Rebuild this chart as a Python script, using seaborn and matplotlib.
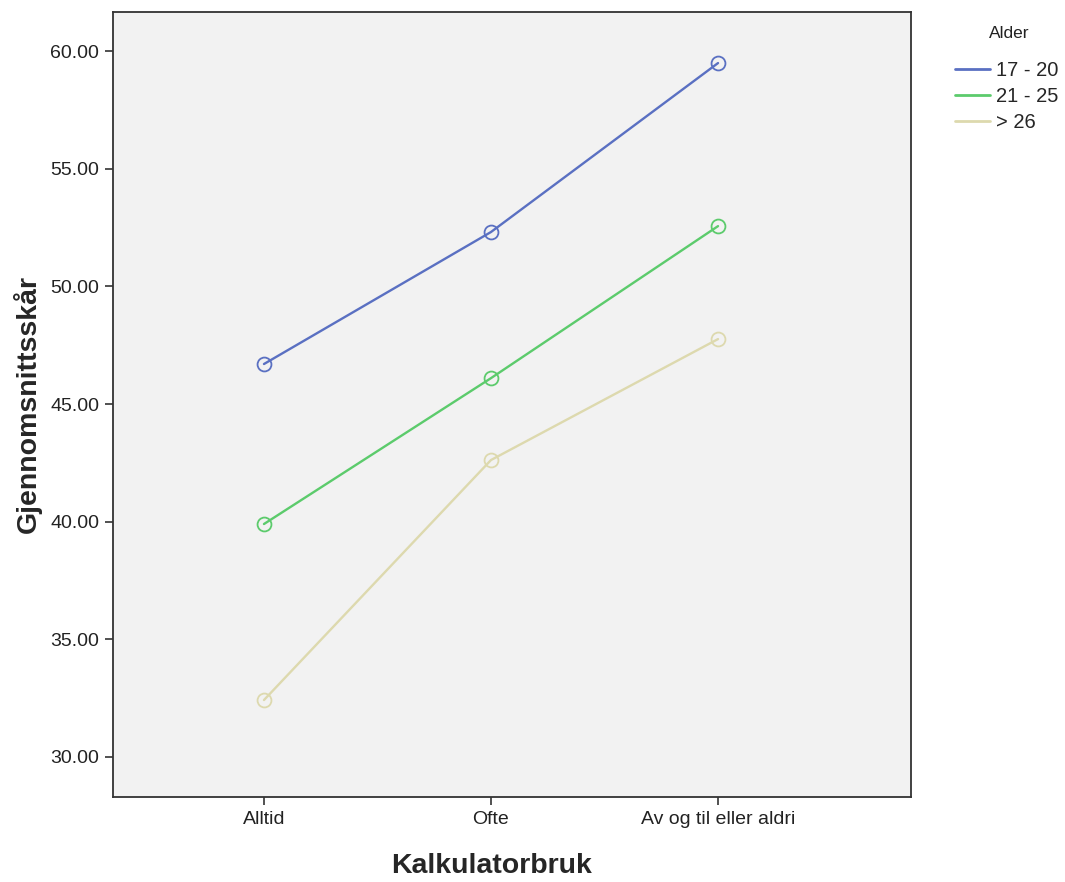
import seaborn as sns
import pandas as pd
import matplotlib.pyplot as plt
import matplotlib.ticker as ticker
from matplotlib.lines import Line2D

# values
kategorier = ['Alltid', 'Ofte', 'Av og til eller aldri']
grupper = ['17 - 20', '21 - 25', '> 26']
snitt_17_20 = [46.70, 52.31, 59.49]
snitt_21_25 = [39.90, 46.10, 52.56]
snitt_26 = [32.42, 42.62, 47.76]
farger = ['#5a70c2', '#5ccb6c', '#ddd9ae']

df = pd.DataFrame({
    'Kalkulatorbruk': kategorier * 3,
    'Gjennomsnittsskår': snitt_17_20 + snitt_21_25 + snitt_26,
    'Alder': [g for g in grupper for _ in kategorier],
})

sns.set_style('white')
plt.rcParams['font.family'] = ['Liberation Sans', 'DejaVu Sans']

fig = plt.figure(figsize=(10.65, 8.82), dpi=100)
ax = fig.add_axes([0.1061, 0.0964, 0.7493, 0.89])

sns.lineplot(data=df, x='Kalkulatorbruk', y='Gjennomsnittsskår', hue='Alder',
             hue_order=grupper, palette=farger, marker='o', markersize=10,
             linewidth=1.7, legend=False, ax=ax)
for line in ax.get_lines():
    line.set_markerfacecolor('none')
    line.set_markeredgecolor(line.get_color())
    line.set_markeredgewidth(1.3)

ax.set_facecolor('#f2f2f2')
ax.set_xlim(-0.665, 2.85)
ax.set_ylim(28.30, 61.66)
ax.set_yticks([30, 35, 40, 45, 50, 55, 60])
ax.yaxis.set_major_formatter(ticker.FormatStrFormatter('%.2f'))
ax.tick_params(axis='both', direction='out', length=6, width=1.2, color='#333333',
               labelsize=14, labelcolor='#222222', bottom=True, left=True, pad=4)
for s in ax.spines.values():
    s.set_color('#333333')
    s.set_linewidth(1.3)

ax.set_xlabel('Kalkulatorbruk', fontsize=20.5, fontweight='bold')
ax.xaxis.set_label_coords(0.474, -0.088)
ax.xaxis.label.set_va('center')
ax.set_ylabel('Gjennomsnittsskår', fontsize=20.5, fontweight='bold', labelpad=6)

# legend: title as separate text, lines only
fig.text(1009 / 1065, 1 - 33 / 882, 'Alder', fontsize=12.5, ha='center', va='center',
         color='#222222')
handles = [Line2D([], [], color=c, linewidth=2) for c in farger]
fig.legend(handles, grupper, loc='upper left', bbox_to_anchor=(955 / 1065, 1 - 61 / 882),
           bbox_transform=fig.transFigure, frameon=False, fontsize=14.5,
           handlelength=1.75, handletextpad=0.3, labelspacing=0.35,
           borderpad=0, borderaxespad=0)

plt.savefig('out.png', dpi=100)
